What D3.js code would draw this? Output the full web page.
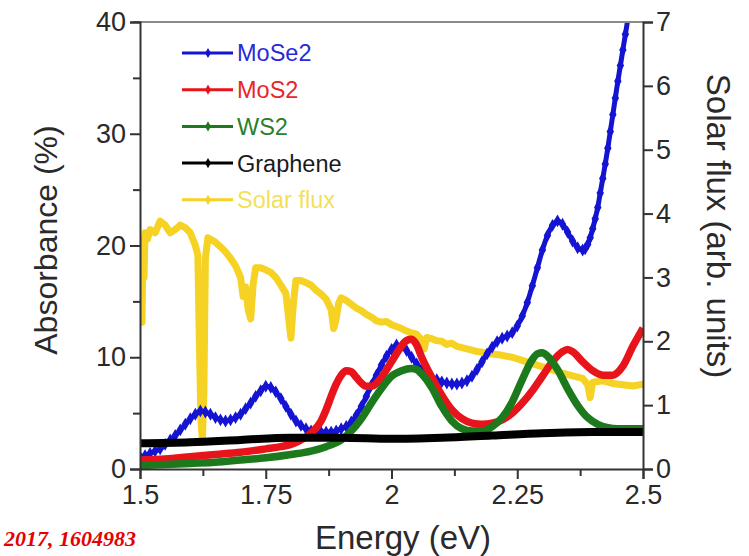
<!DOCTYPE html>
<html>
<head>
<meta charset="utf-8">
<script src="https://cdn.jsdelivr.net/npm/d3@7/dist/d3.min.js"></script>
<style>
  html, body { margin: 0; padding: 0; background: #fff; }
  svg { display: block; }
</style>
</head>
<body>
<svg id="chart" width="749" height="556"></svg>
<script>
// Absorbance (%) of monolayers versus photon energy (eV), with the solar flux on a second axis.
const mose2 = [
  [1.50,1.1],[1.51,1.2],[1.52,1.4],[1.53,1.6],[1.54,1.8],[1.55,2.2],[1.56,2.6],[1.57,3.0],[1.58,3.5],[1.59,4.0],
  [1.60,4.5],[1.61,4.9],[1.62,5.2],[1.63,5.1],[1.64,4.9],[1.65,4.6],[1.66,4.4],[1.67,4.3],[1.68,4.4],[1.69,4.6],
  [1.70,4.9],[1.71,5.4],[1.72,5.9],[1.73,6.5],[1.74,7.0],[1.75,7.4],[1.76,7.3],[1.77,6.9],[1.78,6.3],[1.79,5.6],
  [1.80,4.9],[1.81,4.3],[1.82,3.9],[1.83,3.6],[1.84,3.4],[1.85,3.3],[1.86,3.3],[1.87,3.3],[1.88,3.3],[1.89,3.4],
  [1.90,3.6],[1.91,3.8],[1.92,4.2],[1.93,4.8],[1.94,5.6],[1.95,6.5],[1.96,7.5],[1.97,8.4],[1.98,9.3],[1.99,10.1],
  [2.00,10.7],[2.01,11.1],[2.02,11.0],[2.03,10.6],[2.04,10.0],[2.05,9.4],[2.06,8.9],[2.07,8.5],[2.08,8.2],[2.09,8.0],
  [2.10,7.8],[2.11,7.7],[2.12,7.6],[2.13,7.6],[2.14,7.7],[2.15,7.9],[2.16,8.3],[2.17,8.9],[2.18,9.6],[2.19,10.3],
  [2.20,10.9],[2.21,11.4],[2.22,11.7],[2.23,11.9],[2.24,12.2],[2.25,12.8],[2.26,13.7],[2.27,14.9],[2.28,16.4],[2.29,18.0],
  [2.30,19.6],[2.31,20.9],[2.32,21.8],[2.33,22.2],[2.34,21.9],[2.35,21.2],[2.36,20.4],[2.37,19.8],[2.38,19.6],[2.385,19.7],
  [2.39,20.1],[2.395,20.7],[2.40,21.5],[2.405,22.4],[2.41,23.4],[2.415,24.7],[2.42,26.0],[2.425,27.3],[2.43,28.7],[2.435,30.2],
  [2.44,31.7],[2.445,33.2],[2.45,34.7],[2.455,36.1],[2.46,37.5],[2.465,38.9],[2.47,40.3]
];

const mos2 = [
  [1.50,0.8],[1.55,0.9],[1.60,1.1],[1.65,1.3],[1.70,1.5],[1.75,1.8],[1.78,2.0],[1.80,2.2],[1.82,2.6],[1.84,3.2],
  [1.86,4.3],[1.87,5.3],[1.88,6.5],[1.89,7.6],[1.90,8.4],[1.91,8.8],[1.92,8.7],[1.93,8.2],[1.94,7.7],[1.95,7.4],
  [1.96,7.4],[1.98,8.2],[2.00,9.6],[2.02,11.0],[2.03,11.5],[2.04,11.6],[2.05,11.1],[2.06,10.0],[2.08,8.2],[2.10,6.6],
  [2.12,5.3],[2.14,4.5],[2.16,4.1],[2.18,4.0],[2.20,4.1],[2.22,4.4],[2.24,5.0],[2.26,5.9],[2.28,7.0],[2.30,8.3],
  [2.32,9.6],[2.34,10.5],[2.35,10.7],[2.36,10.5],[2.38,9.6],[2.40,8.8],[2.42,8.4],[2.44,8.4],[2.46,9.2],[2.48,11.0],
  [2.50,12.6]
];

const ws2 = [
  [1.50,0.3],[1.55,0.4],[1.60,0.5],[1.65,0.6],[1.70,0.8],[1.75,1.0],[1.80,1.3],[1.84,1.6],[1.87,2.0],[1.90,2.6],
  [1.92,3.4],[1.94,4.5],[1.96,5.9],[1.98,7.2],[2.00,8.3],[2.02,8.8],[2.04,9.0],[2.05,8.9],[2.06,8.5],[2.08,7.3],
  [2.10,5.6],[2.12,4.3],[2.14,3.6],[2.16,3.4],[2.18,3.4],[2.20,3.8],[2.22,4.6],[2.24,6.0],[2.26,8.0],[2.28,9.8],
  [2.29,10.3],[2.30,10.4],[2.31,10.1],[2.33,8.9],[2.35,7.2],[2.37,5.7],[2.39,4.6],[2.41,4.0],[2.43,3.7],[2.45,3.6],
  [2.50,3.6]
];

const graphene = [
  [1.50,2.3],[1.60,2.4],[1.70,2.6],[1.80,2.8],[1.90,2.8],[2.00,2.7],[2.10,2.8],[2.20,3.0],[2.30,3.2],[2.40,3.3],
  [2.50,3.3]
];

const solarFlux = [
  [1.500,2.6],[1.502,3.5],[1.504,2.3],[1.506,3.6],[1.508,3.0],[1.510,3.7],[1.515,3.6],[1.520,3.75],[1.530,3.7],[1.540,3.88],
  [1.550,3.82],[1.560,3.70],[1.570,3.75],[1.580,3.82],[1.590,3.78],[1.600,3.70],[1.610,3.50],[1.615,3.35],[1.618,2.0],[1.621,0.8],
  [1.624,0.45],[1.627,1.2],[1.630,3.3],[1.635,3.62],[1.640,3.60],[1.650,3.55],[1.660,3.48],[1.670,3.40],[1.680,3.30],[1.690,3.18],
  [1.700,3.0],[1.705,2.70],[1.710,2.85],[1.715,2.5],[1.720,2.35],[1.725,2.9],[1.730,3.15],[1.740,3.15],[1.750,3.12],[1.760,3.08],
  [1.770,3.0],[1.780,2.88],[1.790,2.75],[1.795,2.4],[1.800,2.05],[1.805,2.6],[1.810,2.95],[1.820,2.95],[1.830,2.92],[1.840,2.88],
  [1.850,2.80],[1.860,2.74],[1.870,2.66],[1.880,2.5],[1.885,2.2],[1.890,2.35],[1.895,2.6],[1.900,2.68],[1.910,2.64],[1.920,2.58],
  [1.930,2.52],[1.940,2.48],[1.950,2.42],[1.960,2.38],[1.970,2.32],[1.980,2.30],[1.990,2.31],[2.000,2.26],[2.010,2.23],[2.020,2.20],
  [2.030,2.16],[2.040,2.13],[2.050,2.11],[2.060,2.02],[2.065,1.88],[2.070,2.06],[2.080,2.04],[2.090,2.01],[2.100,2.0],[2.110,1.95],
  [2.120,1.97],[2.130,1.92],[2.140,1.90],[2.150,1.88],[2.160,1.86],[2.170,1.84],[2.180,1.83],[2.190,1.81],[2.200,1.80],[2.220,1.78],
  [2.240,1.75],[2.260,1.70],[2.280,1.65],[2.300,1.60],[2.320,1.55],[2.340,1.50],[2.360,1.46],[2.380,1.42],[2.390,1.32],[2.395,1.12],
  [2.400,1.36],[2.420,1.38],[2.440,1.34],[2.460,1.32],[2.480,1.30],[2.500,1.33]
];

const energyTicks = [1.5, 1.75, 2, 2.25, 2.5];
const energyMinor = [1.625, 1.875, 2.125, 2.375];
const absTicks = [0, 10, 20, 30, 40];
const absMinor = [5, 15, 25, 35];
const fluxTicks = [0, 1, 2, 3, 4, 5, 6, 7];

const legendItems = [
  { name: "MoSe2", line: "#1414d2", text: "#2a2ad8" },
  { name: "MoS2", line: "#e8141c", text: "#e8262a" },
  { name: "WS2", line: "#1c7a1c", text: "#2a7f2a" },
  { name: "Graphene", line: "#000000", text: "#1a1a1a" },
  { name: "Solar flux", line: "#f5d223", text: "#f3df5a" }
];

const svg = d3.select("#chart");
const font = "'Liberation Sans', Arial, Helvetica, sans-serif";

const x = d3.scaleLinear().domain([1.5, 2.5]).range([140, 643]);
const yA = d3.scaleLinear().domain([0, 40]).range([469, 22]);
const yF = d3.scaleLinear().domain([0, 7]).range([469, 22]);

const clip = svg.append("defs").append("clipPath").attr("id", "plot");
clip.append("rect").attr("x", 140).attr("y", 22).attr("width", 503).attr("height", 447);

const plot = svg.append("g").attr("clip-path", "url(#plot)");

const lineA = d3.line().x(d => x(d[0])).y(d => yA(d[1])).curve(d3.curveMonotoneX);
const lineF = d3.line().x(d => x(d[0])).y(d => yF(d[1])).curve(d3.curveLinear);

plot.append("path").datum(solarFlux)
  .attr("d", lineF).attr("fill", "none")
  .attr("stroke", legendItems[4].line).attr("stroke-width", 7)
  .attr("stroke-linejoin", "round").attr("stroke-linecap", "round");

plot.append("path").datum(mose2)
  .attr("d", lineA).attr("fill", "none")
  .attr("stroke", legendItems[0].line).attr("stroke-width", 5);
plot.append("g").selectAll("path").data(mose2).join("path")
  .attr("transform", d => `translate(${x(d[0])},${yA(d[1])})`)
  .attr("d", d3.symbol(d3.symbolDiamond, 48))
  .attr("fill", legendItems[0].line);

plot.append("path").datum(mos2)
  .attr("d", lineA).attr("fill", "none")
  .attr("stroke", legendItems[1].line).attr("stroke-width", 7.5);

plot.append("path").datum(ws2)
  .attr("d", lineA).attr("fill", "none")
  .attr("stroke", legendItems[2].line).attr("stroke-width", 7.5);

plot.append("path").datum(graphene)
  .attr("d", lineA).attr("fill", "none")
  .attr("stroke", legendItems[3].line).attr("stroke-width", 8);

// frame: gray top edge
svg.append("line").attr("x1", 133).attr("x2", 643).attr("y1", 22).attr("y2", 22)
  .attr("stroke", "#8a8a8a").attr("stroke-width", 2);

function styleAxis(g) {
  g.select(".domain").attr("stroke", "#333").attr("stroke-width", 2);
  g.selectAll(".tick line").attr("stroke", "#333").attr("stroke-width", 2);
  g.selectAll(".tick text").attr("fill", "#2a2a2a").attr("font-family", font).attr("font-size", 27);
}

// left axis
const gL = svg.append("g").attr("transform", "translate(140,0)")
  .call(d3.axisLeft(yA).tickValues(absTicks).tickSize(10).tickPadding(4).tickFormat(d3.format("d")));
styleAxis(gL);
const gLm = svg.append("g").attr("transform", "translate(140,0)")
  .call(d3.axisLeft(yA).tickValues(absMinor).tickSize(7).tickFormat(""));
styleAxis(gLm);
gLm.select(".domain").remove();

// right axis
const gR = svg.append("g").attr("transform", "translate(643,0)")
  .call(d3.axisRight(yF).tickValues(fluxTicks).tickSize(10).tickPadding(3).tickFormat(d3.format("d")));
styleAxis(gR);

// bottom axis
const gB = svg.append("g").attr("transform", "translate(0,469)")
  .call(d3.axisBottom(x).tickValues(energyTicks).tickSize(10).tickPadding(6).tickFormat(d => String(d)));
styleAxis(gB);
const gBm = svg.append("g").attr("transform", "translate(0,469)")
  .call(d3.axisBottom(x).tickValues(energyMinor).tickSize(7).tickFormat(""));
styleAxis(gBm);
gBm.select(".domain").remove();

// axis titles
svg.append("text").attr("transform", "translate(57,240) rotate(-90)")
  .attr("text-anchor", "middle").attr("font-family", font).attr("font-size", 32)
  .attr("fill", "#2a2a2a").text("Absorbance (%)");
svg.append("text").attr("transform", "translate(707,226) rotate(90)")
  .attr("text-anchor", "middle").attr("font-family", font).attr("font-size", 33)
  .attr("fill", "#2a2a2a").text("Solar flux (arb. units)");
svg.append("text").attr("x", 403).attr("y", 549)
  .attr("text-anchor", "middle").attr("font-family", font).attr("font-size", 33)
  .attr("fill", "#2a2a2a").text("Energy (eV)");

// legend
const leg = svg.append("g");
legendItems.forEach((item, i) => {
  const cy = 53 + i * 36.7;
  leg.append("line").attr("x1", 182).attr("x2", 233).attr("y1", cy).attr("y2", cy)
    .attr("stroke", item.line).attr("stroke-width", 3);
  leg.append("path").attr("transform", `translate(208,${cy})`)
    .attr("d", d3.symbol(d3.symbolDiamond, 30)).attr("fill", item.line);
  leg.append("text").attr("x", 237).attr("y", cy).attr("dy", "0.36em")
    .attr("font-family", font).attr("font-size", 23.5).attr("fill", item.text).text(item.name);
});

// citation line at the lower edge
svg.append("text").attr("x", 4).attr("y", 546)
  .attr("font-family", "'Liberation Serif', 'Times New Roman', serif")
  .attr("font-style", "italic").attr("font-weight", "bold").attr("font-size", 22)
  .attr("fill", "#e60000").text("2017, 1604983");
</script>
</body>
</html>
